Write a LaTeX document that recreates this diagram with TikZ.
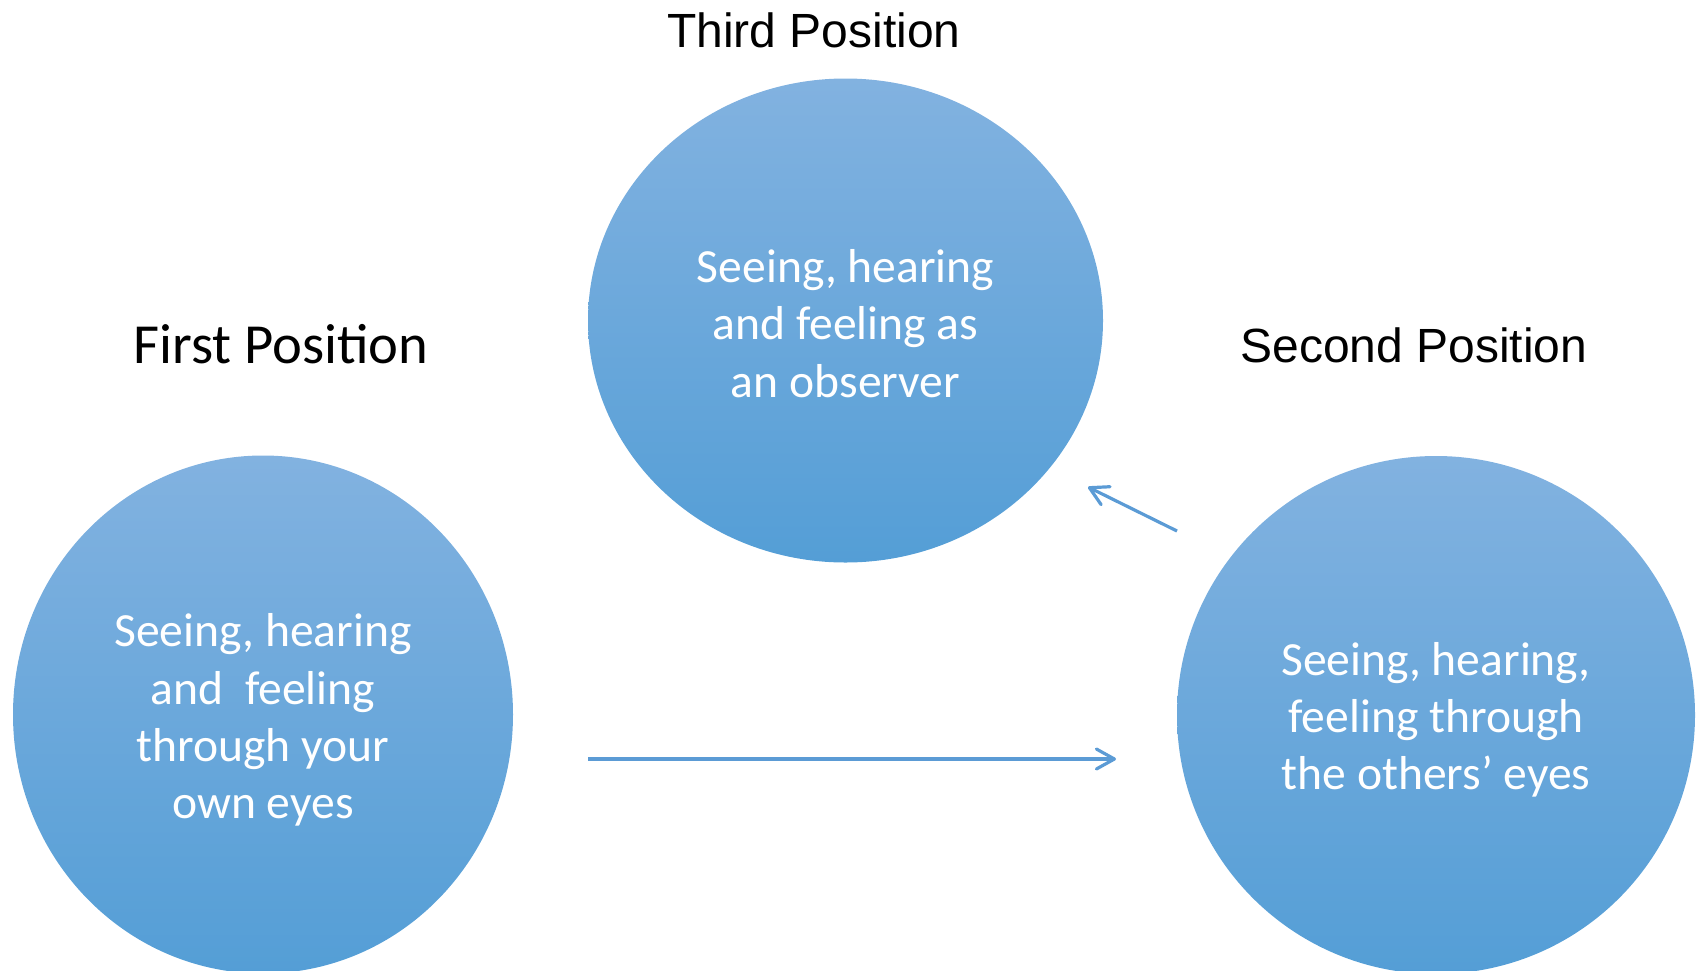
\documentclass[tikz,border=0pt]{standalone}
\usepackage{fontspec}
\setmainfont{Carlito}
\newfontfamily\arialfont{Liberation Sans}
\usetikzlibrary{shapes.geometric,arrows.meta}
\definecolor{circtop}{HTML}{82B2E0}
\definecolor{circmid}{HTML}{69ABE1}
\definecolor{circbot}{HTML}{549ED6}
\definecolor{arrblue}{HTML}{5B9BD5}
\begin{document}
\begin{tikzpicture}[x=0.5pt,y=-0.5pt,
    circ/.style={ellipse,inner sep=0pt,top color=circtop,middle color=circmid,bottom color=circbot},
    inside/.style={text=white,align=center,font=\fontsize{23.8}{28.6}\selectfont},
    title/.style={anchor=base,font=\arialfont\fontsize{24}{28}\selectfont},
    arr/.style={arrblue,line width=1.6pt,-{Straight Barb[length=9pt,width=10pt,round]}}]
    \useasboundingbox (0,0) rectangle (1698,970);
    \node (third) at (845.5,320.5) [circ,minimum width=257.5pt,minimum height=242pt] {};
    \node (first) at (263,714.5) [circ,minimum width=250pt,minimum height=259pt] {};
    \node (second) at (1436,715) [circ,minimum width=259pt,minimum height=259pt] {};
    \node (thirdtext) at (845.5,323.5) [inside] {Seeing, hearing\\and feeling as\\an observer};
    \node (firsttext) at (263,720) [inside] {Seeing, hearing\\and \ feeling\\through your\\own eyes};
    \node (secondtext) at (1436,719.5) [inside] {Seeing, hearing,\\feeling through\\the others’ eyes};
    \node (thirdtitle) at (814,47) [title] {Third Position};
    \node (firsttitle) at (281,363) [title,font=\fontsize{28.3}{33}\selectfont] {First Position};
    \node (secondtitle) at (1414,362) [title] {Second Position};
    \coordinate (hstart) at (588,759);
    \coordinate (hend) at (1116,759);
    \draw[arr] (hstart) -- (hend);
    \coordinate (dstart) at (1177,531);
    \coordinate (dend) at (1088,487);
    \draw[arr] (dstart) -- (dend);
\end{tikzpicture}
\end{document}
